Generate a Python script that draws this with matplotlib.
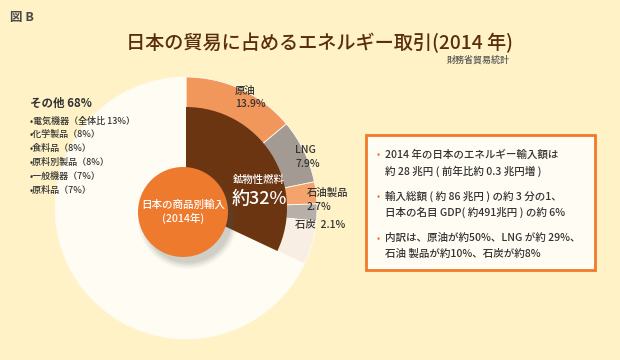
import matplotlib
matplotlib.use('Agg')
import matplotlib.pyplot as plt
from matplotlib.patches import Circle, Rectangle

plt.rcParams['font.family'] = ['Noto Sans CJK JP', 'DejaVu Sans']
plt.rcParams['font.weight'] = 'medium'

# data
title = '日本の貿易に占めるエネルギー取引(2014 年)'
source = '財務省貿易統計'
fuel_total = 32
other_total = 68
ring_labels = ['原油', 'LNG', '石油製品', '石炭', 'その他燃料']
ring_values = [13.9, 7.9, 2.7, 2.1, 5.4]
other_items = ['電気機器（全体比 13%）', '化学製品（8%）', '食料品（8%）',
               '原料別製品（8%）', '一般機器（7%）', '原料品（7%）']
notes = [
    ['2014 年の日本のエネルギー輸入額は', '約 28 兆円 ( 前年比約 0.3 兆円増 )'],
    ['輸入総額 ( 約 86 兆円 ) の約 3 分の1、', '日本の名目 GDP( 約491兆円 ) の約 6%'],
    ['内訳は、原油が約50%、LNG が約 29%、', '石油 製品が約10%、石炭が約8%'],
]

bg = '#fef2c6'
cream = '#fffdf3'
ring_colors = ['#f1975c', '#a39b93', '#f5a36c', '#b8b0a8', '#f9eee3']
brown = '#6b3511'
orange = '#ee7a2e'
dark = '#333333'
title_col = '#5a2d0c'

W, H = 620, 360
fig = plt.figure(figsize=(6.2, 3.6), dpi=100, facecolor=bg)
ax = fig.add_axes([0, 0, 1, 1])
ax.set_facecolor(bg)


def Y(y):
    return H - y


cx, cy = 186, Y(208)

# outer pie: ring segments of mineral fuels + rest of imports
ax.pie(ring_values + [other_total], radius=131, center=(cx, cy),
       colors=ring_colors + [cream], startangle=90, counterclock=False,
       wedgeprops=dict(linewidth=0.6, edgecolor='#fffaf0'))
# inner wedge: mineral fuels
ax.pie([fuel_total, other_total], radius=101, center=(cx, cy),
       colors=[brown, 'none'], startangle=90, counterclock=False,
       wedgeprops=dict(linewidth=0))

# center circle with soft shadow
ox, oy = 183, Y(212)
for i, a in enumerate([0.04, 0.05, 0.06, 0.07, 0.08]):
    ax.add_patch(Circle((ox + 5, oy - 7), 50 - i * 1.5, color='#555555', alpha=a, lw=0))
ax.add_patch(Circle((ox, oy), 45, color=orange, lw=0))
ax.text(ox, Y(205), '日本の商品別輸入', color='white', fontsize=7.6, ha='center', va='center')
ax.text(ox, Y(218), '(2014年)', color='white', fontsize=7.6, ha='center', va='center')

ax.text(233, Y(180), '鉱物性燃料', color='white', fontsize=7.5, ha='left', va='center')
ax.text(232, Y(199), f'約{fuel_total}%', color='white', fontsize=13, ha='left', va='center')

# ring labels
lab_pos = [(235, 91, 104), (295, 150, 164), (307, 193, 207)]
for (x, y1, y2), name, v in zip(lab_pos, ring_labels[:3], ring_values[:3]):
    ax.text(x, Y(y1), name, color=dark, fontsize=7.5, ha='left', va='center')
    ax.text(x, Y(y2), f'{v}%', color=dark, fontsize=7.5, ha='left', va='center')
ax.text(295, Y(225), f'{ring_labels[3]}  {ring_values[3]}%', color=dark,
        fontsize=7.5, ha='left', va='center')

# other imports list
ax.text(30, Y(103), f'その他 {other_total}%', color=dark, fontsize=8.3,
        fontweight='bold', ha='left', va='center')
for i, item in enumerate(other_items):
    ax.text(30, Y(121 + i * 13.8), '•' + item, color=dark, fontsize=6.5,
            ha='left', va='center')

# notes box
ax.add_patch(Rectangle((366, Y(270)), 229, 135, facecolor=cream,
                       edgecolor='#f07a2a', linewidth=2))
for i, (l1, l2) in enumerate(notes):
    y0 = 155 + i * 41.5
    ax.text(377, Y(y0), '•', color='#f07a2a', fontsize=6.5, ha='left', va='center')
    ax.text(385, Y(y0), l1, color=dark, fontsize=7.6, ha='left', va='center')
    ax.text(385, Y(y0 + 16), l2, color=dark, fontsize=7.6, ha='left', va='center')

# titles
ax.text(10, Y(17), '図 B', color='#4a4a4a', fontsize=9, fontweight='bold',
        ha='left', va='center')
ax.text(320, Y(43), title, color=title_col, fontsize=13.8, ha='center', va='center')
ax.text(510, Y(60), source, color='#555555', fontsize=6.5, ha='right', va='center')

ax.set_xlim(0, W)
ax.set_ylim(0, H)
ax.set_aspect('auto')
ax.axis('off')

fig.savefig('out.png', dpi=100, facecolor=bg)
